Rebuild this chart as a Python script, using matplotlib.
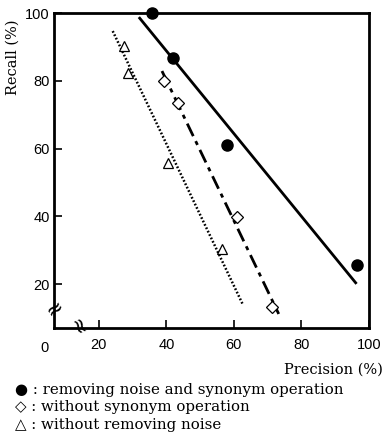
import matplotlib
matplotlib.use("Agg")
import matplotlib.pyplot as plt

# values
prec_full = [35.7, 41.9, 57.9, 96.4]
rec_full = [100.0, 86.7, 61.1, 25.7]
prec_nosyn = [39.3, 43.4, 60.9, 71.3]
rec_nosyn = [80.0, 73.5, 39.8, 13.3]
prec_nonoise = [27.4, 28.6, 40.4, 56.4]
rec_nonoise = [90.3, 82.3, 55.8, 30.4]

# fitted lines (end points)
fit_full_x = [32.1, 96.1]
fit_full_y = [98.5, 20.4]
fit_nosyn_x = [38.7, 73.3]
fit_nosyn_y = [82.9, 11.2]
fit_nonoise_x = [24.1, 62.7]
fit_nonoise_y = [94.7, 13.9]

xticks = [20, 40, 60, 80, 100]
yticks = [20, 40, 60, 80, 100]

legend_lines = ["\u25cf : removing noise and synonym operation",
                "\u25c7 : without synonym operation",
                "\u25b3 : without removing noise"]

fig = plt.figure(figsize=(3.83, 4.37), dpi=100)
ax = fig.add_axes([0.141, 0.249, 0.822, 0.721])

ax.plot(fit_full_x, fit_full_y, color="black", lw=2.0)
ax.plot(fit_nosyn_x, fit_nosyn_y, color="black", lw=2.0, linestyle=(0, (5, 2, 1.5, 2)))
ax.plot(fit_nonoise_x, fit_nonoise_y, color="black", lw=1.8, linestyle=(0, (0.7, 0.8)))

ax.plot(prec_full, rec_full, "o", color="black", ms=8, clip_on=False, zorder=5)
ax.plot(prec_nosyn, rec_nosyn, "D", mfc="white", mec="black", ms=6, mew=0.9, zorder=5)
ax.plot(prec_nonoise, rec_nonoise, "^", mfc="white", mec="black", ms=7.5, mew=0.9, zorder=5)

ax.set_xlim(6.7, 100)
ax.set_ylim(7, 100)
ax.set_xticks(xticks)
ax.set_yticks(yticks)
ax.tick_params(direction="in", length=6, width=1.2, labelsize=10.5)
ax.tick_params(axis="y", pad=3)
ax.tick_params(axis="x", pad=7)
for lab in ax.get_xticklabels() + ax.get_yticklabels():
    lab.set_family("Liberation Sans")
for s in ax.spines.values():
    s.set_linewidth(2)

# origin label and axis breaks
ax.text(-0.03, -0.04, "0", transform=ax.transAxes, ha="center", va="top",
        fontsize=10.5, family="Liberation Sans")
ax.text(7.0, 13, "\u2248", fontsize=15, rotation=35, ha="center", va="center",
        family="DejaVu Sans", clip_on=False)
ax.text(13.5, 7.3, "\u2248", fontsize=15, rotation=-65, ha="center", va="center",
        family="DejaVu Sans", clip_on=False)

fig.text(0.032, 0.87, "Recall (%)", rotation=90, ha="center", va="center",
         fontsize=10.5, family="DejaVu Serif")
fig.text(1.0, 0.155, "Precision (%)", ha="right", va="center",
         fontsize=10.5, family="DejaVu Serif")

for i, line in enumerate(legend_lines):
    fig.text(0.04, 0.108 - i * 0.04, line, ha="left", va="center",
             fontsize=10.8, family=["DejaVu Serif", "DejaVu Sans"])

fig.savefig("out.png", dpi=100)
